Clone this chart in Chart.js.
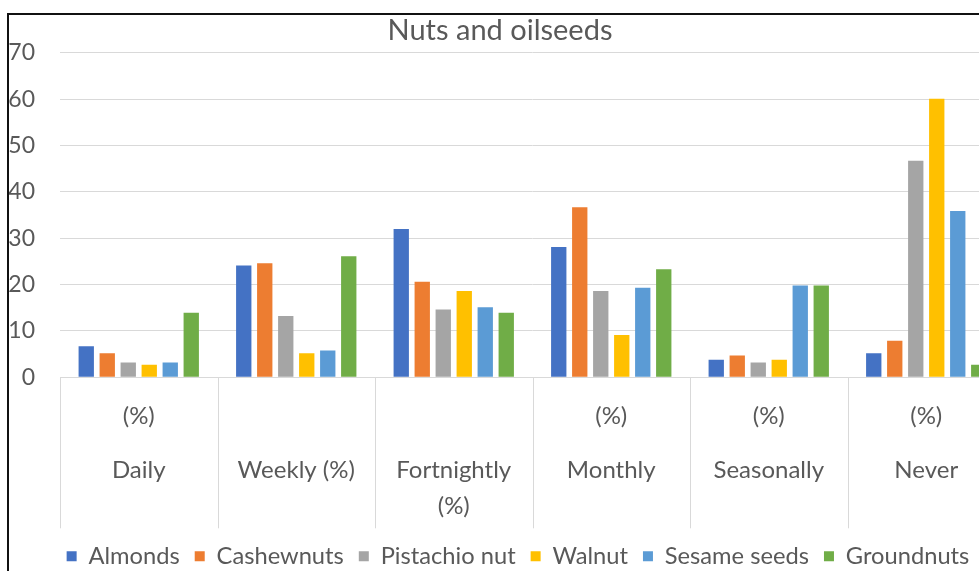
<!DOCTYPE html>
<html>
<head>
<meta charset="utf-8">
<script src="https://cdn.jsdelivr.net/npm/chart.js@4.4.1/dist/chart.umd.min.js"></script>
<style>
  html, body { margin: 0; padding: 0; background: #fff; overflow: hidden; width: 979px; height: 571px; }
  #wrap { position: absolute; left: -5px; top: 0; width: 1010px; height: 580px; }
  #frame { position: absolute; left: 7px; top: 13px; right: -10px; bottom: -10px;
           border-left: 2px solid #111; border-top: 2px solid #111; pointer-events: none; }
</style>
</head>
<body>
<div id="wrap"><canvas id="c" width="1010" height="580"></canvas></div>
<div id="frame"></div>
<script>
// Frequency of consumption, percent of respondents
const categories = [
  ["(%)", "", "", "Daily"],
  ["", "", "", "Weekly (%)"],
  ["", "", "", "Fortnightly", "", "(%)"],
  ["(%)", "", "", "Monthly"],
  ["(%)", "", "", "Seasonally"],
  ["(%)", "", "", "Never"]
];
const almonds     = [6.7, 24.1, 32.0, 28.1, 3.8, 5.2];
const cashewnuts  = [5.2, 24.6, 20.6, 36.7, 4.7, 7.9];
const pistachio   = [3.2, 13.2, 14.6, 18.6, 3.2, 46.7];
const walnut      = [2.7, 5.2, 18.6, 9.1, 3.8, 60.1];
const sesameSeeds = [3.2, 5.8, 15.1, 19.3, 19.8, 35.9];
const groundnuts  = [13.9, 26.1, 13.9, 23.3, 19.8, 2.7];
const yTicks = [0, 10, 20, 30, 40, 50, 60, 70];

const textColor = '#595959';
const gridColor = '#d9d9d9';
const font = 'Lato, "Open Sans", sans-serif';

const series = [
  ['Almonds', almonds, '#4472C4'],
  ['Cashewnuts', cashewnuts, '#ED7D31'],
  ['Pistachio nut', pistachio, '#A5A5A5'],
  ['Walnut', walnut, '#FFC000'],
  ['Sesame seeds', sesameSeeds, '#5B9BD5'],
  ['Groundnuts', groundnuts, '#70AD47']
];

// Vertical separators between category labels, below the axis line
const categorySeparators = {
  id: 'categorySeparators',
  afterDraw(chart) {
    const x = chart.scales.x, ctx = chart.ctx;
    const top = chart.chartArea.bottom;
    ctx.save();
    ctx.strokeStyle = gridColor;
    ctx.lineWidth = 1;
    ctx.beginPath();
    for (let i = 0; i <= categories.length; i++) {
      const px = Math.round(x.getPixelForValue(i - 0.5)) + 0.5;
      ctx.moveTo(px, top);
      ctx.lineTo(px, top + 151);
    }
    ctx.stroke();
    ctx.restore();
  }
};

// Legend sits slightly right of the title's centre line
const legendShift = {
  id: 'legendShift',
  afterLayout(chart) {
    chart.legend.left += 18;
    chart.legend.right += 18;
  }
};

new Chart(document.getElementById('c'), {
  type: 'bar',
  data: {
    labels: categories,
    datasets: series.map(([label, data, color]) => ({
      label, data, backgroundColor: color, borderWidth: 0,
      barPercentage: 0.73, categoryPercentage: 0.8
    }))
  },
  options: {
    responsive: false,
    animation: false,
    layout: { padding: { left: 0, right: 0, top: 0, bottom: 2 } },
    plugins: {
      title: {
        display: true, text: 'Nuts and oilseeds', color: textColor,
        font: { family: font, size: 29, weight: 'normal' },
        padding: { top: 13, bottom: 5 }
      },
      legend: {
        position: 'bottom',
        labels: {
          color: textColor, boxWidth: 10, boxHeight: 10, padding: 15,
          font: { family: font, size: 23.7 }
        }
      },
      tooltip: { enabled: false }
    },
    scales: {
      x: {
        offset: true,
        afterFit: s => { s.height = 152; },
        grid: { display: false },
        border: { display: true, color: gridColor },
        ticks: { color: textColor, padding: 22, maxRotation: 0, autoSkip: false,
                 font: { family: font, size: 24, lineHeight: 18 / 24 } }
      },
      y: {
        min: 0, max: 70,
        afterFit: s => { s.width = 65; },
        afterBuildTicks: s => { s.ticks = yTicks.map(v => ({ value: v })); },
        grid: { color: gridColor, drawTicks: false },
        border: { display: false },
        ticks: { color: textColor, padding: 25, font: { family: font, size: 23 } }
      }
    }
  },
  plugins: [categorySeparators, legendShift]
});
</script>
</body>
</html>
